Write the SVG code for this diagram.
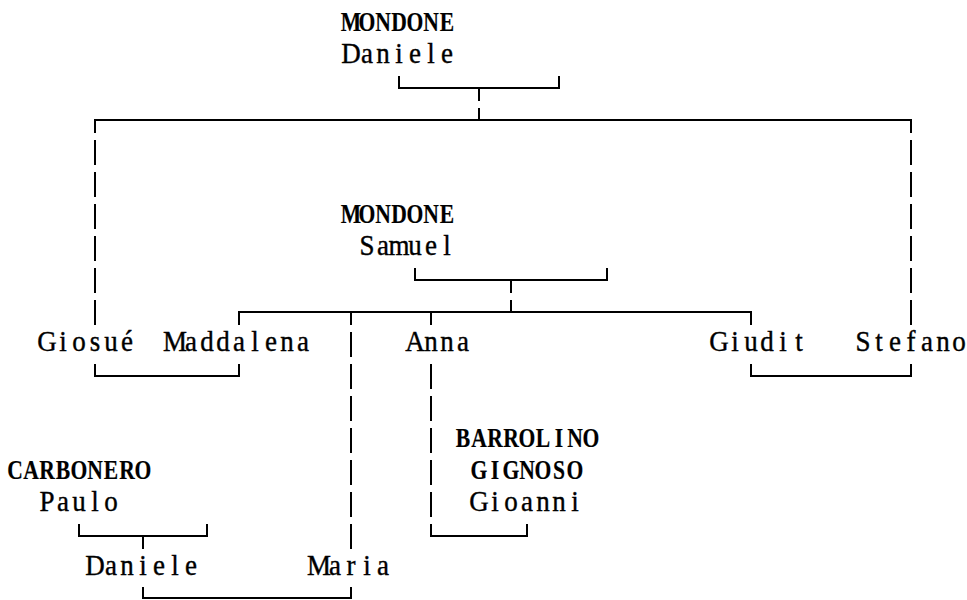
<svg xmlns="http://www.w3.org/2000/svg" width="967" height="600" viewBox="0 0 967 600">
<style>
  .t { font-family: "Liberation Serif", "Times New Roman", serif; font-size: 30px; fill: #000; text-anchor: middle; stroke: #000; stroke-width: 0.4; }
  .c { font-size: 27px; font-weight: bold; stroke-width: 0.2; }
  .ln { fill: none; stroke: #000; stroke-width: 2; stroke-linecap: butt; stroke-linejoin: miter; }
</style>
<rect width="967" height="600" fill="#fff"/>
<g id="connectors">
  <path class="ln" d="M399 76 V88 H559 V76"/>
  <path class="ln" d="M479 88 V101 M479 108 V120"/>
  <path class="ln" d="M95 133 V120 H911 V133"/>
  <path class="ln" d="M95 140 V165 M95 172 V197 M95 204 V229 M95 236 V261 M95 268 V293 M95 300 V325"/>
  <path class="ln" d="M911 140 V165 M911 172 V197 M911 204 V229 M911 236 V261 M911 268 V293 M911 300 V325"/>
  <path class="ln" d="M415 268 V280 H607 V268"/>
  <path class="ln" d="M511 280 V293 M511 300 V312"/>
  <path class="ln" d="M239 325 V312 H751 V325"/>
  <path class="ln" d="M351 312 V325 M351 332 V357 M351 364 V389 M351 396 V421 M351 428 V453 M351 460 V485 M351 492 V517 M351 524 V549"/>
  <path class="ln" d="M431 312 V325"/>
  <path class="ln" d="M95 364 V376 H239 V364"/>
  <path class="ln" d="M751 364 V376 H911 V364"/>
  <path class="ln" d="M431 364 V389 M431 396 V421 M431 428 V453 M431 460 V485 M431 492 V517 M431 524 V536 H527 V524"/>
  <path class="ln" d="M79 524 V536 H207 V524"/>
  <path class="ln" d="M143 536 V549"/>
  <path class="ln" d="M143 587 V598 H351 V587"/>
</g>
<g id="mondone-daniele">
  <g transform="scale(0.8,1)"><text class="t c" x="438.75 458.75 478.75 498.75 518.75 538.75 558.75" y="31">MONDONE</text></g>
  <g transform="scale(0.9,1)"><text class="t" x="390 407.78 425.56 443.33 461.11 478.89 496.67" y="63">Daniele</text></g>
</g>
<g id="mondone-samuel">
  <g transform="scale(0.8,1)"><text class="t c" x="438.75 458.75 478.75 498.75 518.75 538.75 558.75" y="223">MONDONE</text></g>
  <g transform="scale(0.9,1)"><text class="t" x="407.78 425.56 443.33 461.11 478.89 496.67" y="255">Samuel</text></g>
</g>
<g id="giosue" transform="scale(0.9,1)"><text class="t" x="52.22 70 87.78 105.56 123.33 141.11" y="351">Giosué</text></g>
<g id="maddalena" transform="scale(0.9,1)"><text class="t" x="194.44 212.22 230 247.78 265.56 283.33 301.11 318.89 336.67" y="351">Maddalena</text></g>
<g id="anna" transform="scale(0.9,1)"><text class="t" x="461.11 478.89 496.67 514.44" y="351">Anna</text></g>
<g id="giudit" transform="scale(0.9,1)"><text class="t" x="798.89 816.67 834.44 852.22 870 887.78" y="351">Giudit</text></g>
<g id="stefano" transform="scale(0.9,1)"><text class="t" x="958.89 976.67 994.44 1012.22 1030 1047.78 1065.56" y="351">Stefano</text></g>
<g id="barrolino-gignoso-gioanni">
  <g transform="scale(0.8,1)">
    <text class="t c" x="578.75 598.75 618.75 638.75 658.75 678.75 698.75 718.75 738.75" y="447">BARROLINO</text>
    <text class="t c" x="598.75 618.75 638.75 658.75 678.75 698.75 718.75" y="479">GIGNOSO</text>
  </g>
  <g transform="scale(0.9,1)"><text class="t" x="532.22 550 567.78 585.56 603.33 621.11 638.89" y="511">Gioanni</text></g>
</g>
<g id="carbonero-paulo">
  <g transform="scale(0.8,1)"><text class="t c" x="18.75 38.75 58.75 78.75 98.75 118.75 138.75 158.75 178.75" y="479">CARBONERO</text></g>
  <g transform="scale(0.9,1)"><text class="t" x="52.22 70 87.78 105.56 123.33" y="511">Paulo</text></g>
</g>
<g id="daniele" transform="scale(0.9,1)"><text class="t" x="105.56 123.33 141.11 158.89 176.67 194.44 212.22" y="575">Daniele</text></g>
<g id="maria" transform="scale(0.9,1)"><text class="t" x="354.44 372.22 390 407.78 425.56" y="575">Maria</text></g>
</svg>
